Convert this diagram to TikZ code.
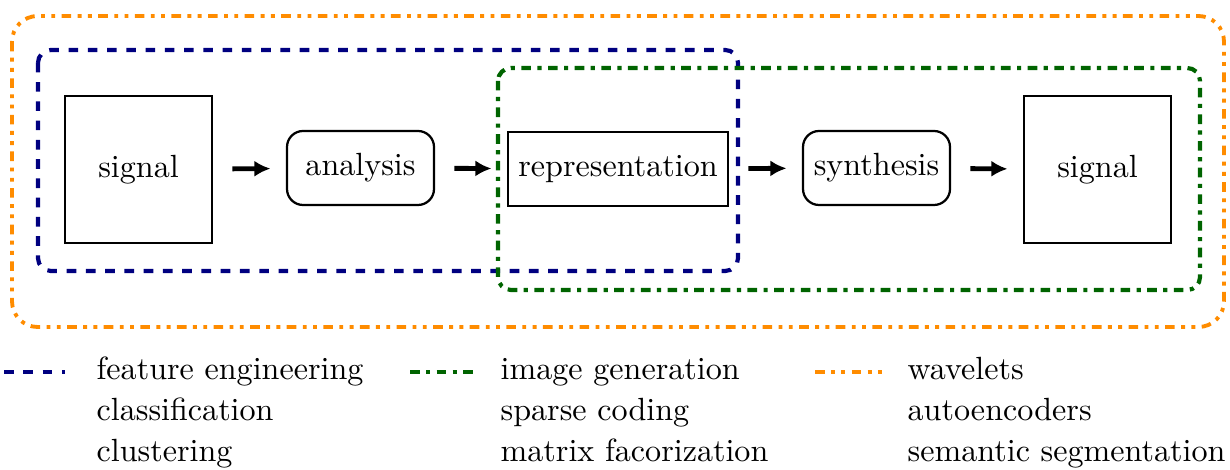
\documentclass[tikz,border=0pt]{standalone}
\usetikzlibrary{arrows.meta}
\definecolor{cblue}{RGB}{0,0,128}
\definecolor{cgreen}{RGB}{0,100,0}
\definecolor{corange}{RGB}{255,140,0}
\begin{document}
\begin{tikzpicture}[x=0.3115pt,y=-0.3115pt,
  blk/.style={draw,line width=0.7pt,inner sep=0pt,font=\normalsize},
  sq/.style={blk,minimum width=147*0.3115pt,minimum height=147*0.3115pt},
  rbox/.style={blk,rounded corners=5pt,minimum width=147*0.3115pt,minimum height=74*0.3115pt},
  flow/.style={line width=1.5pt,-{Latex[length=5pt,width=5pt]},shorten <=6pt,shorten >=4.8pt},
  grpblue/.style={cblue,line width=1.3pt,dashed,rounded corners=4pt},
  grpgreen/.style={cgreen,line width=1.3pt,dash dot,rounded corners=4pt},
  grporange/.style={corange,line width=1.2pt,dash dot dot,rounded corners=8pt},
  leg/.style={anchor=base west,inner sep=0pt}]
\useasboundingbox (0,0) rectangle (1230,470);
\node[sq] (sigL) at (138.5,169.5) {signal};
\node[rbox] (ana) at (360.5,168) {analysis};
\node[blk,minimum width=220*0.3115pt,minimum height=74*0.3115pt] (rep) at (618,169) {representation};
\node[rbox] (syn) at (876.5,168) {synthesis};
\node[sq] (sigR) at (1097.5,169.5) {signal};
\draw[flow] (sigL) -- (ana);
\draw[flow] (ana) -- (rep);
\draw[flow] (rep) -- (syn);
\draw[flow] (syn) -- (sigR);
\draw[grporange] (12,16) rectangle (1224,327);
\draw[grpblue] (38,50) rectangle (738,271);
\draw[grpgreen] (498,68) rectangle (1200,290);
% legend
\coordinate (lb1) at (4,372); \coordinate (lb2) at (65,372);
\coordinate (lg1) at (410,372); \coordinate (lg2) at (478,372);
\coordinate (lo1) at (815,372); \coordinate (lo2) at (885,372);
\draw[cblue,line width=1.3pt,dashed] (lb1) -- (lb2);
\draw[cgreen,line width=1.3pt,dash dot] (lg1) -- (lg2);
\draw[corange,line width=1.2pt,dash dot dot] (lo1) -- (lo2);
\node[leg] (t11) at (96,380) {feature engineering};
\node[leg] (t12) at (96,421) {classification};
\node[leg] (t13) at (96,462) {clustering};
\node[leg] (t21) at (500,380) {image generation};
\node[leg] (t22) at (500,421) {sparse coding};
\node[leg] (t23) at (500,462) {matrix facorization};
\node[leg] (t31) at (907,380) {wavelets};
\node[leg] (t32) at (907,421) {autoencoders};
\node[leg] (t33) at (907,462) {semantic segmentation};
\end{tikzpicture}
\end{document}
